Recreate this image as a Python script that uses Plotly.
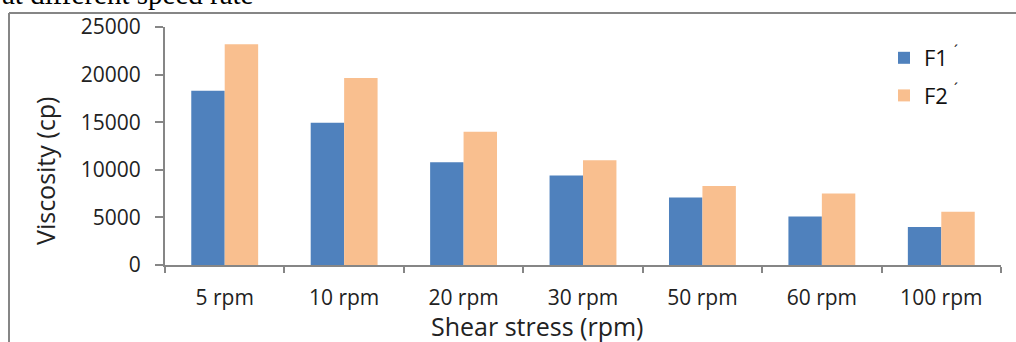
import plotly.graph_objects as go

categories = ["5 rpm", "10 rpm", "20 rpm", "30 rpm", "50 rpm", "60 rpm", "100 rpm"]
f1_values = [18300, 14950, 10800, 9400, 7100, 5100, 4000]
f2_values = [23200, 19650, 14000, 11000, 8300, 7500, 5600]
y_ticks = [0, 5000, 10000, 15000, 20000, 25000]

W, H = 1016, 342
ML, MR, MT, MB = 165, 15, 27, 77
PW, PH = W - ML - MR, H - MT - MB

def px_x(p):
    return (p - ML) / PW

def px_y(p):
    return (H - MB - p) / PH

FONT = "Open Sans"
GREY = "#868686"

fig = go.Figure()
fig.add_trace(go.Bar(x=categories, y=f1_values, name="F1 <sup>´</sup>",
                     marker=dict(color="#4F81BD", line=dict(width=0)), legendgroup="a"))
fig.add_trace(go.Bar(x=categories, y=f2_values, name="F2 <sup>´</sup>",
                     marker=dict(color="#F9BF8F", line=dict(width=0)), legendgroup="b"))

fig.update_layout(
    width=W, height=H,
    margin=dict(l=ML, r=MR, t=MT, b=MB, pad=0),
    paper_bgcolor="white", plot_bgcolor="white",
    barmode="group", bargap=0.44, bargroupgap=0,
    font=dict(family=FONT, color="#222222"),
    showlegend=True,
    legend=dict(x=px_x(884), y=px_y(37), xanchor="left", yanchor="top",
                font=dict(size=22, family=FONT, color="#111111"),
                bgcolor="rgba(0,0,0,0)", tracegroupgap=6, itemwidth=30),
    xaxis=dict(
        type="category", showline=True, linecolor=GREY, linewidth=2,
        ticks="outside", tickson="boundaries", ticklen=6, tickcolor=GREY, tickwidth=2,
        tickfont=dict(size=21, family=FONT, color="#222222"),
        ticklabelstandoff=13, showgrid=False, zeroline=False,
    ),
    yaxis=dict(
        range=[0, 25000], tickvals=y_ticks, ticktext=[str(v) for v in y_ticks],
        showline=True, linecolor=GREY, linewidth=2,
        ticks="outside", ticklen=8, tickcolor=GREY, tickwidth=2,
        tickfont=dict(size=21, family=FONT, color="#222222"),
        ticklabelstandoff=10, showgrid=False, zeroline=False,
    ),
    shapes=[
        dict(type="line", xref="paper", yref="paper", x0=px_x(9), x1=px_x(9),
             y0=px_y(13), y1=px_y(H + 5), line=dict(color=GREY, width=2)),
        dict(type="line", xref="paper", yref="paper", x0=px_x(9), x1=px_x(W + 5),
             y0=px_y(13), y1=px_y(13), line=dict(color=GREY, width=2)),
    ],
    annotations=[
        dict(text="Viscosity (cp)", xref="paper", yref="paper", x=px_x(45), y=px_y(171),
             xanchor="center", yanchor="middle", textangle=-90, showarrow=False,
             font=dict(size=25, family=FONT, color="#222222")),
        dict(text="Shear stress (rpm)", xref="paper", yref="paper", x=px_x(537), y=px_y(326),
             xanchor="center", yanchor="middle", showarrow=False,
             font=dict(size=25, family=FONT, color="#222222")),
        dict(text="at different speed rate", xref="paper", yref="paper", x=px_x(0), y=px_y(12),
             xanchor="left", yanchor="bottom", showarrow=False,
             font=dict(size=29, family="Liberation Serif", color="#000000")),
    ],
)

fig.write_html("out.html")
